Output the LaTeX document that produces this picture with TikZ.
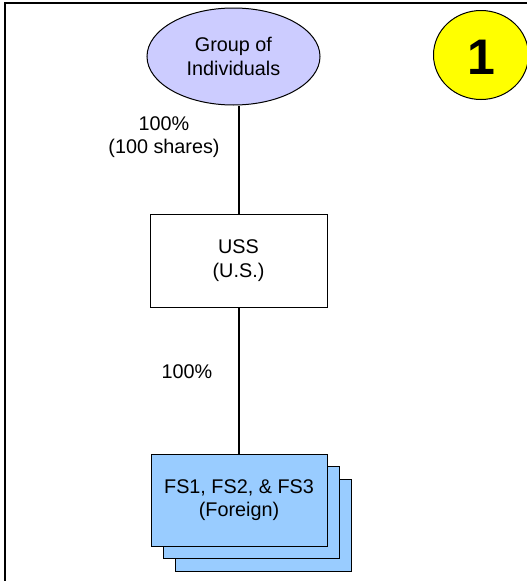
\documentclass[tikz,border=0pt]{standalone}
\usepackage{fontspec}
\setmainfont{Liberation Sans}
\usetikzlibrary{shapes.geometric}
\definecolor{lav}{HTML}{CCCCFF}
\definecolor{sky}{HTML}{99CCFF}
\definecolor{yel}{HTML}{FFFF00}
\begin{document}
\begin{tikzpicture}[x=1pt,y=-1pt,
  txt/.style={font=\fontsize{19.8}{23.5}\selectfont, align=center},
  entity/.style={txt, draw=black, line width=1pt, rectangle, inner sep=0pt},
  conn/.style={draw=black, line width=2pt}]
\useasboundingbox (0,0) rectangle (527,581);
\begin{scope}
\clip (0,0) rectangle (527,581);
\draw[line width=2.5pt] (5,3) rectangle (540,600);
\node[ellipse, draw=black, line width=1pt, fill=yel, minimum width=95pt, minimum height=89pt, inner sep=0pt] (badge) at (481,55) {};
\end{scope}
\node[font=\fontsize{50}{50}\selectfont\bfseries] (num) at (481,57) {1};
\node[ellipse, txt, draw=black, line width=1pt, fill=lav, minimum width=173pt, minimum height=97pt, inner sep=0pt] (grp) at (233.5,56.5) {Group of\\Individuals};
\node[entity, fill=white, minimum width=177pt, minimum height=93pt] (uss) at (238.5,260.5) {USS\\(U.S.)};
\node[entity, fill=sky, minimum width=176pt, minimum height=92pt] (fs3) at (263,525) {};
\node[entity, fill=sky, minimum width=176pt, minimum height=92pt] (fs2) at (251,512.5) {};
\node[entity, fill=sky, minimum width=176pt, minimum height=92pt] (fs1) at (239,500) {FS1, FS2, \& FS3\\(Foreign)};
\draw[conn] (uss.north) -- (uss.north |- grp.south);
\draw[conn] (uss.south) -- (uss.south |- fs1.north);
\node[txt] (l1) at (164,137) {100\%\\(100 shares)};
\node[txt] (l2) at (187,372) {100\%};
\end{tikzpicture}
\end{document}
